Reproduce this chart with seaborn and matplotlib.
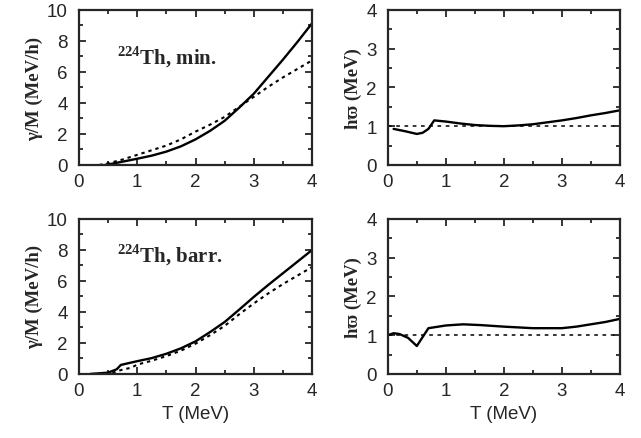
import matplotlib
matplotlib.use('Agg')
import matplotlib.pyplot as plt
from matplotlib.ticker import MultipleLocator
import numpy as np
import pandas as pd
import seaborn as sns

# gamma/M, ground state (min.)
t_min_solid = [0.45, 0.6, 0.8, 1.0, 1.25, 1.5, 1.75, 2.0, 2.25, 2.5, 2.75, 3.0, 3.25, 3.5, 3.75, 4.0]
g_min_solid = [0.0, 0.1, 0.25, 0.4, 0.6, 0.86, 1.2, 1.65, 2.2, 2.85, 3.7, 4.6, 5.7, 6.8, 7.95, 9.15]
t_min_dot = [0.35, 0.5, 0.75, 1.0, 1.25, 1.5, 1.75, 2.0, 2.25, 2.5, 2.75, 3.0, 3.25, 3.5, 3.75, 4.0]
g_min_dot = [0.0, 0.1, 0.35, 0.65, 0.95, 1.25, 1.65, 2.15, 2.6, 3.1, 3.75, 4.4, 5.05, 5.65, 6.2, 6.75]

# gamma/M, barrier (barr.)
t_barr_solid = [0.2, 0.5, 0.65, 0.72, 1.0, 1.25, 1.5, 1.75, 2.0, 2.25, 2.5, 2.75, 3.0, 3.25, 3.5, 3.75, 4.0]
g_barr_solid = [0.0, 0.08, 0.3, 0.58, 0.82, 1.02, 1.3, 1.65, 2.1, 2.7, 3.35, 4.15, 4.97, 5.75, 6.5, 7.25, 8.0]
t_barr_dot = [0.45, 0.6, 0.75, 0.9, 1.0, 1.25, 1.5, 1.75, 2.0, 2.25, 2.5, 2.75, 3.0, 3.25, 3.5, 3.75, 4.0]
g_barr_dot = [0.0, 0.1, 0.28, 0.4, 0.6, 0.85, 1.15, 1.5, 1.95, 2.5, 3.1, 3.85, 4.55, 5.2, 5.8, 6.35, 6.9]

# h-omega, ground state
t_hw_min = [0.1, 0.3, 0.5, 0.6, 0.7, 0.8, 1.0, 1.25, 1.5, 1.75, 2.0, 2.25, 2.5, 2.75, 3.0, 3.25, 3.5, 3.75, 4.0]
hw_min = [0.93, 0.87, 0.8, 0.83, 0.93, 1.15, 1.12, 1.07, 1.03, 1.01, 1.0, 1.02, 1.05, 1.1, 1.15, 1.21, 1.28, 1.34, 1.41]

# h-omega, barrier
t_hw_barr = [0.0, 0.1, 0.2, 0.35, 0.5, 0.6, 0.7, 1.0, 1.3, 1.6, 2.0, 2.5, 3.0, 3.25, 3.5, 3.75, 4.0]
hw_barr = [1.0, 1.05, 1.03, 0.93, 0.72, 0.95, 1.18, 1.25, 1.28, 1.26, 1.22, 1.18, 1.18, 1.22, 1.28, 1.34, 1.42]

t_ref = [0.0, 4.0]
hw_ref = [1.0, 1.0]

sns.set_style("ticks")
plt.rcParams['font.family'] = ['Liberation Sans', 'DejaVu Sans']
plt.rcParams['mathtext.fontset'] = 'custom'
plt.rcParams['mathtext.rm'] = 'Liberation Serif:bold'
plt.rcParams['mathtext.bf'] = 'Liberation Serif:bold'

fig = plt.figure(figsize=(6.41, 4.39), dpi=100)
ax_tl = fig.add_axes([0.123, 0.622, 0.364, 0.353])
ax_tr = fig.add_axes([0.605, 0.622, 0.362, 0.353])
ax_bl = fig.add_axes([0.123, 0.146, 0.364, 0.353])
ax_br = fig.add_axes([0.605, 0.146, 0.362, 0.353])

solid = dict(color='black', lw=1.7)
dotted = dict(color='black', lw=1.5, linestyle=(0, (1.6, 1.9)))
refline = dict(color='black', lw=1.1, linestyle=(0, (2.4, 3.0)))

sns.lineplot(x=t_min_solid, y=g_min_solid, ax=ax_tl, **solid)
sns.lineplot(x=t_min_dot, y=g_min_dot, ax=ax_tl, **dotted)
sns.lineplot(x=t_barr_solid, y=g_barr_solid, ax=ax_bl, **solid)
sns.lineplot(x=t_barr_dot, y=g_barr_dot, ax=ax_bl, **dotted)
sns.lineplot(x=t_hw_min, y=hw_min, ax=ax_tr, **solid)
sns.lineplot(x=t_ref, y=hw_ref, ax=ax_tr, **refline)
sns.lineplot(x=t_hw_barr, y=hw_barr, ax=ax_br, **solid)
sns.lineplot(x=t_ref, y=hw_ref, ax=ax_br, **refline)

ylab_font = dict(family=['Liberation Serif', 'DejaVu Serif'], weight='bold', size=13.5)

for ax in [ax_tl, ax_bl]:
    ax.set_xlim(0, 4)
    ax.set_ylim(0, 10)
    ax.yaxis.set_major_locator(MultipleLocator(2))
    ax.yaxis.set_minor_locator(MultipleLocator(1))
    ax.set_ylabel('γ/M (MeV/h)', fontdict=ylab_font, labelpad=3)
for ax in [ax_tr, ax_br]:
    ax.set_xlim(0, 4)
    ax.set_ylim(0, 4)
    ax.yaxis.set_major_locator(MultipleLocator(1))
    ax.yaxis.set_minor_locator(MultipleLocator(0.5))
    ax.set_ylabel('hϖ (MeV)', fontdict=ylab_font, labelpad=3)

for ax in [ax_tl, ax_tr, ax_bl, ax_br]:
    ax.xaxis.set_major_locator(MultipleLocator(1))
    ax.xaxis.set_minor_locator(MultipleLocator(0.5))
    ax.tick_params(which='both', direction='in', top=True, right=True, labelsize=13.5, width=1.3)
    ax.tick_params(which='major', length=5)
    ax.tick_params(which='minor', length=3)
    ax.tick_params(axis='x', which='major', pad=6)
    ax.tick_params(axis='y', which='major', pad=8)
    for sp in ax.spines.values():
        sp.set_linewidth(1.6)
        sp.set_visible(True)
    ax.set_xlabel('')

ax_bl.set_xlabel('T (MeV)', fontsize=13.5, labelpad=4)
ax_br.set_xlabel('T (MeV)', fontsize=13.5, labelpad=4)

ax_tl.text(0.66, 7.0, r'$^{224}$Th, min.', fontsize=15, va='center',
           family=['Liberation Serif', 'DejaVu Serif'], weight='bold')
ax_bl.text(0.66, 7.7, r'$^{224}$Th, barr.', fontsize=15, va='center',
           family=['Liberation Serif', 'DejaVu Serif'], weight='bold')

fig.savefig('out.png', dpi=100)
